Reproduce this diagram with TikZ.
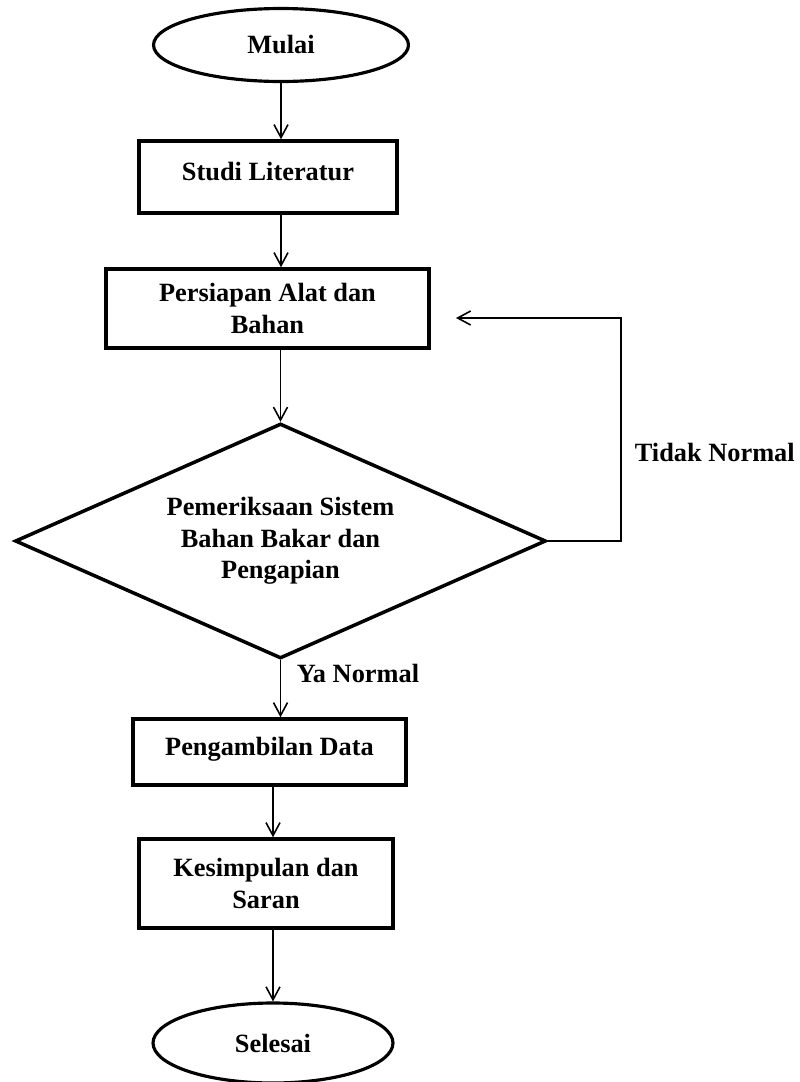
\documentclass[tikz,border=0pt]{standalone}
\usepackage{fontspec}
\setmainfont{Liberation Serif}
\usepackage{tikz}
\usetikzlibrary{shapes.geometric, arrows.meta, positioning, calc}
\tikzstyle{flow} = [line width=0.9pt,->,>={Straight Barb[length=2.6mm,width=2.8mm]}]
\tikzstyle{terminal} = [ellipse, draw, line width=1.8pt]
\tikzstyle{process} = [rectangle, draw, line width=2pt, align=center]
\tikzstyle{decision} = [diamond, draw, line width=2pt, align=center, aspect=2.26, inner sep=0pt, minimum width=10.62cm, minimum height=4.7cm]

\begin{document}
\begin{tikzpicture}[
  x=0.02cm, y=-0.02cm,
  every node/.style={font=\fontsize{15}{18}\selectfont\bfseries, inner sep=2pt},
  toptext/.style={text depth=0.65em}
]
\useasboundingbox (0,0) rectangle (800,1082);
% alur utama
\node[terminal, minimum width=5.1cm, minimum height=1.46cm] (mulai) at (281,45) {Mulai};
\node[process, toptext, minimum width=5.16cm, minimum height=1.44cm] (studi) at (268,177) {Studi Literatur};
\node[process, minimum width=6.46cm, minimum height=1.58cm] (persiapan) at (267.5,308.5) {Persiapan Alat dan\\Bahan};
\node[decision] (cek) at (280.5,541) {Pemeriksaan Sistem\\Bahan Bakar dan\\Pengapian};
\node[process, toptext, minimum width=5.46cm, minimum height=1.32cm] (ambil) at (269.5,752) {Pengambilan Data};
\node[process, minimum width=5.08cm, minimum height=1.78cm] (simpul) at (266,883.5) {Kesimpulan dan\\Saran};
\node[terminal, minimum width=4.8cm, minimum height=1.6cm] (selesai) at (273,1043) {Selesai};

% keterangan cabang
\node[anchor=west] (tidak) at (631,452) {Tidak Normal};
\node[anchor=west] (ya) at (293,673) {Ya Normal};

% titik belok jalur kembali
\coordinate (sudut) at (621,318);
\coordinate (balik) at (456,318);

% panah
\draw[flow] (mulai.south) -- (mulai.south |- studi.north);
\draw[flow] (studi.south -| mulai) -- (persiapan.north -| mulai);
\draw[flow] (persiapan.south -| cek) -- (cek.north);
\draw[flow] (cek.south) -- (cek.south |- ambil.north);
\draw[flow] (ambil.south -| selesai) -- (simpul.north -| selesai);
\draw[flow] (simpul.south -| selesai) -- (selesai.north);
\draw[flow] (cek.east) -| (sudut) -- (balik);
\end{tikzpicture}
\end{document}
